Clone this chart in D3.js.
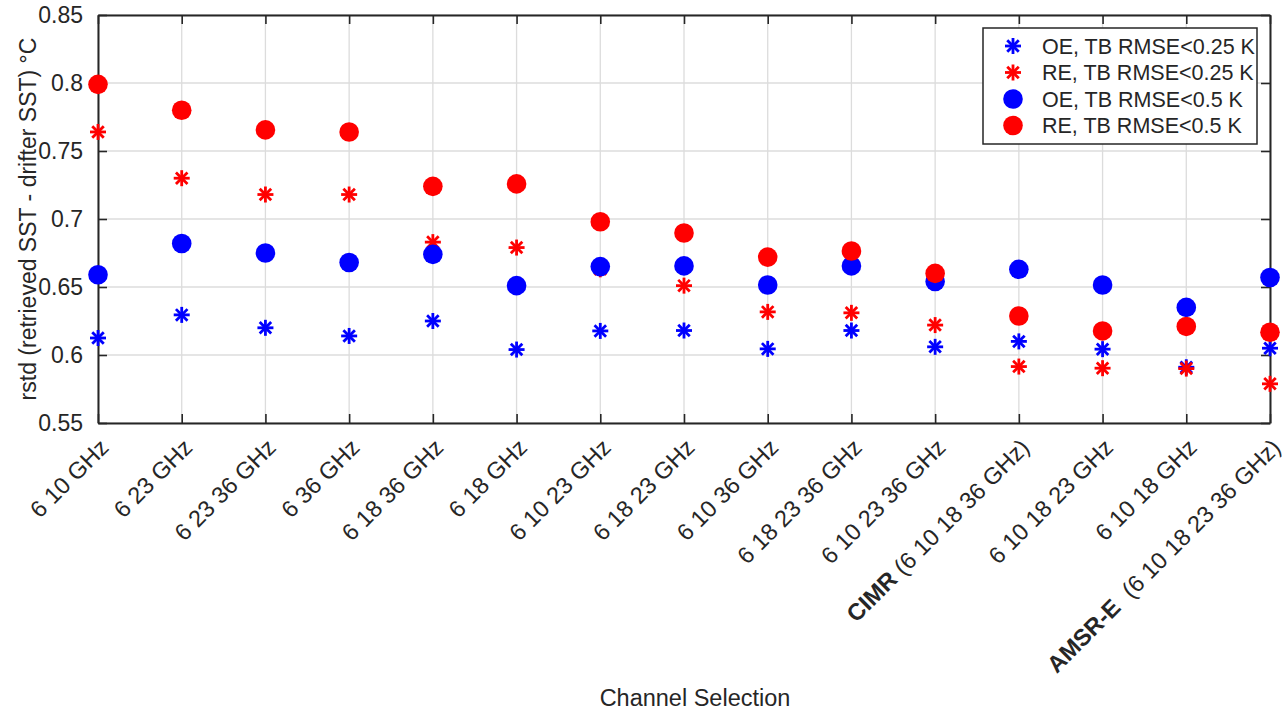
<!DOCTYPE html>
<html><head><meta charset="utf-8">
<script src="https://cdn.jsdelivr.net/npm/d3@7"></script>
<style>body{margin:0;background:#fff}svg{display:block}text{font-family:"Liberation Sans",Arial,sans-serif;fill:#262626}</style>
</head><body><svg id="c" width="1285" height="711"></svg>
<script>
const categories = ["6 10 GHz","6 23 GHz","6 23 36 GHz","6 36 GHz","6 18 36 GHz","6 18 GHz","6 10 23 GHz","6 18 23 GHz","6 10 36 GHz","6 18 23 36 GHz","6 10 23 36 GHz","CIMR|(6 10 18 36 GHz)","6 10 18 23 GHz","6 10 18 GHz","AMSR-E| (6 10 18 23 36 GHz)"];
const oeStar  = [0.6125,0.6295,0.620,0.614,0.625,0.604,0.6177,0.618,0.6045,0.618,0.606,0.610,0.6043,0.591,0.605];
const reStar  = [0.764,0.730,0.718,0.718,0.683,0.679,0.663,0.651,0.6317,0.631,0.622,0.5915,0.5903,0.590,0.5788];
const oeCircle= [0.659,0.682,0.675,0.668,0.674,0.651,0.665,0.6655,0.6515,0.6655,0.654,0.663,0.6515,0.635,0.657];
const reCircle= [0.799,0.780,0.7655,0.764,0.724,0.7258,0.698,0.6897,0.672,0.6765,0.660,0.6287,0.6177,0.621,0.6167];
const yTicks = [0.55,0.6,0.65,0.7,0.75,0.8,0.85];
const legendLabels = ["OE, TB RMSE<0.25 K","RE, TB RMSE<0.25 K","OE, TB RMSE<0.5 K","RE, TB RMSE<0.5 K"];

const svg = d3.select("#c");
const L=98, R=1270, T=15, B=423;
const x = d3.scalePoint().domain(d3.range(categories.length)).range([L,R]);
const y = d3.scaleLinear().domain([0.55,0.85]).range([B,T]);
const axisCol="#262626", gridCol="#dcdcdc";

// grid
svg.append("g").selectAll("line").data(yTicks).join("line")
  .attr("x1",L).attr("x2",R).attr("y1",d=>y(d)).attr("y2",d=>y(d))
  .attr("stroke",gridCol).attr("stroke-width",1.3);
svg.append("g").selectAll("line").data(d3.range(categories.length)).join("line")
  .attr("y1",T).attr("y2",B).attr("x1",d=>x(d)).attr("x2",d=>x(d))
  .attr("stroke",gridCol).attr("stroke-width",1.3);

// axes with inward ticks
const tl=9;
const gl = svg.append("g").attr("transform",`translate(${L},0)`)
  .call(d3.axisLeft(y).tickValues(yTicks).tickSizeInner(-tl).tickSizeOuter(0).tickPadding(tl+6).tickFormat(d=>String(+d.toFixed(2))));
const gr = svg.append("g").attr("transform",`translate(${R},0)`)
  .call(d3.axisRight(y).tickValues(yTicks).tickSizeInner(-tl).tickSizeOuter(0).tickFormat(""));
const gb = svg.append("g").attr("transform",`translate(0,${B})`)
  .call(d3.axisBottom(x).tickSizeInner(-tl).tickSizeOuter(0).tickFormat(""));
const gt = svg.append("g").attr("transform",`translate(0,${T})`)
  .call(d3.axisTop(x).tickSizeInner(-tl).tickSizeOuter(0).tickFormat(""));
[gl,gr,gb,gt].forEach(g=>{
  g.select(".domain").attr("stroke",axisCol).attr("stroke-width",2);
  g.selectAll(".tick line").attr("stroke",axisCol).attr("stroke-width",1.6);
});
gl.selectAll(".tick text").attr("font-size",23).attr("fill",axisCol).style("font-family","Liberation Sans, Arial");

// x tick labels rotated
const xl = svg.append("g");
categories.forEach((c,i)=>{
  const t = xl.append("text")
    .attr("transform",`translate(${x(i)+7},${B+21}) rotate(-45)`)
    .attr("text-anchor","end").attr("dy","0.3em").attr("font-size",23.5);
  const parts=c.split("|");
  if(parts.length>1){
    t.append("tspan").attr("font-weight","bold").text(parts[0]);
    t.append("tspan").style("white-space","pre").text(" "+parts[1]);
  } else t.text(c);
});

// axis titles
svg.append("text").attr("transform",`translate(36,${(T+B)/2}) rotate(-90)`)
  .attr("text-anchor","middle").attr("font-size",23).text("rstd (retrieved SST - drifter SST) °C");
svg.append("text").attr("x",695).attr("y",706).attr("text-anchor","middle")
  .attr("font-size",23.5).text("Channel Selection");

// markers
function star(g,cx,cy,col,s){
  const a=s/2;
  const pts=[[ -a,0,a,0],[0,-a,0,a],[-a*0.72,-a*0.72,a*0.72,a*0.72],[-a*0.72,a*0.72,a*0.72,-a*0.72]];
  pts.forEach(p=>g.append("line").attr("x1",cx+p[0]).attr("y1",cy+p[1]).attr("x2",cx+p[2]).attr("y2",cy+p[3])
    .attr("stroke",col).attr("stroke-width",2.8).attr("stroke-linecap","butt"));
}
const series=[{d:oeStar,c:"#0000ff",t:"s"},{d:reStar,c:"#ff0000",t:"s"},{d:oeCircle,c:"#0000ff",t:"c"},{d:reCircle,c:"#ff0000",t:"c"}];
series.forEach(s=>{
  const g=svg.append("g");
  s.d.forEach((v,i)=>{
    if(s.t==="c") g.append("circle").attr("cx",x(i)).attr("cy",y(v)).attr("r",9.8).attr("fill",s.c);
    else star(g,x(i),y(v),s.c,16);
  });
});

// legend
const lg=svg.append("g");
lg.append("rect").attr("x",983).attr("y",28).attr("width",274).attr("height",116)
  .attr("fill","#fff").attr("stroke",axisCol).attr("stroke-width",1.5);
series.forEach((s,i)=>{
  const yy=46+i*26.5;
  if(s.t==="c") lg.append("circle").attr("cx",1013).attr("cy",yy).attr("r",9.8).attr("fill",s.c);
  else star(lg,1013,yy,s.c,16);
  lg.append("text").attr("x",1042).attr("y",yy).attr("dy","0.35em").attr("font-size",21.5).text(legendLabels[i]);
});
</script></body></html>
